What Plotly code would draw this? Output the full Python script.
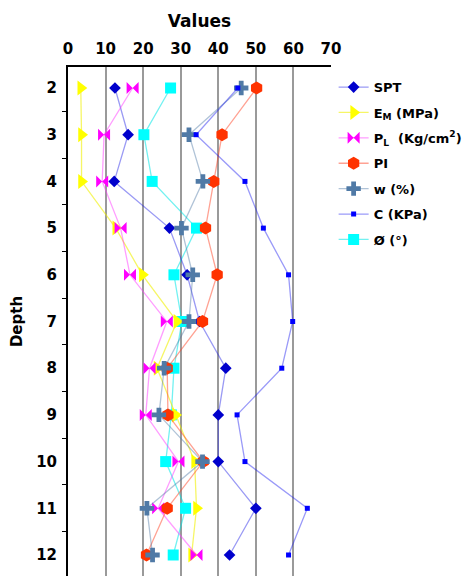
import plotly.graph_objects as go

depth = [2, 3, 4, 5, 6, 7, 8, 9, 10, 11, 12]
spt = [12.5, 16, 12.3, 27, 31.7, 35, 42, 40, 40, 50, 43]
em = [3.4, 3.6, 3.6, 12.7, 19.8, 29, 23.7, 28.6, 33.7, 34.2, 32.9]
pl = [17.2, 9.6, 9.1, 14, 16.5, 26.3, 21.7, 20.7, 29.4, 24, 34.2]
pi = [50.2, 41, 38.8, 36.6, 39.7, 35.8, 26.4, 26.6, 36, 26.4, 20.9]
w = [46.1, 32.2, 35.9, 30.2, 33.2, 32.2, 25.6, 24.2, 35.8, 21, 22.5]
c = [45.2, 34.1, 47.1, 52, 58.7, 59.8, 56.9, 45, 47.1, 63.7, 58.7]
phi = [27.3, 20.2, 22.4, 34.2, 28.2, 30.3, 28.2, 27.5, 26, 31.3, 28]
x_ticks = [0, 10, 20, 30, 40, 50, 60, 70]

FONT = "DejaVu Sans"

series = [
    # name, data, marker color, line color, symbol, size, legend rank
    ("Ø (°)", phi, "#00FFFF", "rgba(0,230,230,0.55)", "square", 11, 7),
    ("SPT", spt, "#0000CC", "rgba(30,30,230,0.45)", "diamond", 9, 1),
    ("E<sub>M</sub> (MPa)", em, "#FFFF00", "rgba(240,240,0,0.6)", "triangle-right", 13, 2),
    ("P<sub>L</sub>  (Kg/cm<sup>2</sup>)", pl, "#FF00FF", "rgba(255,60,255,0.5)", "bowtie", 12, 3),
    ("PI", pi, "#FF3300", "rgba(255,70,40,0.5)", "hexagon", 13, 4),
    ("w (%)", w, "#507AA6", "rgba(80,122,166,0.45)", "cross", 12, 5),
    ("C (KPa)", c, "#0000FF", "rgba(30,30,240,0.45)", "square", 5, 6),
]

fig = go.Figure()
for name, vals, mc, lc, sym, sz, rank in series:
    fig.add_trace(go.Scatter(
        x=vals, y=depth, mode="lines+markers", name=name,
        legendgroup=name,
        line=dict(color=lc, width=1.3),
        marker=dict(color=mc, symbol=sym, size=sz, line=dict(width=0)),
        legendrank=rank,
    ))

fig.update_layout(
    width=467, height=576,
    margin=dict(l=68, r=136, t=67, b=0),
    paper_bgcolor="white", plot_bgcolor="white",
    font=dict(family=FONT, color="black"),
    showlegend=True,
    legend=dict(x=1.01, y=0.99, xanchor="left", yanchor="top",
                font=dict(family=FONT, size=13, color="black", weight="bold"),
                itemwidth=30, bgcolor="rgba(0,0,0,0)",
                traceorder="grouped", tracegroupgap=5.5),
    xaxis=dict(
        side="top", range=[0, 70], tickvals=x_ticks,
        ticktext=[f"<b>{t}</b>" for t in x_ticks],
        tickfont=dict(size=15, family=FONT), ticks="", ticklabelstandoff=5,
        showgrid=True, gridcolor="#9a9a9a", gridwidth=1.6,
        showline=True, linecolor="black", linewidth=1.5, mirror=False,
        title=dict(text="<b>Values</b>", font=dict(size=17, family=FONT), standoff=8),
        zeroline=False,
    ),
    yaxis=dict(
        range=[12.45, 1.55], tickvals=depth,
        ticktext=[f"<b>{d}</b>" for d in depth],
        tickfont=dict(size=15, family=FONT), ticks="", ticklabelstandoff=6,
        showgrid=False, zeroline=False,
        showline=True, linecolor="black", linewidth=2, mirror=False,
        minor=dict(tick0=0.5, dtick=1, ticks="outside", ticklen=4, tickcolor="black", showgrid=False),
        title=dict(text="<b>Depth</b>", font=dict(size=15, family=FONT), standoff=10),
    ),
)

fig.write_html("out.html")
